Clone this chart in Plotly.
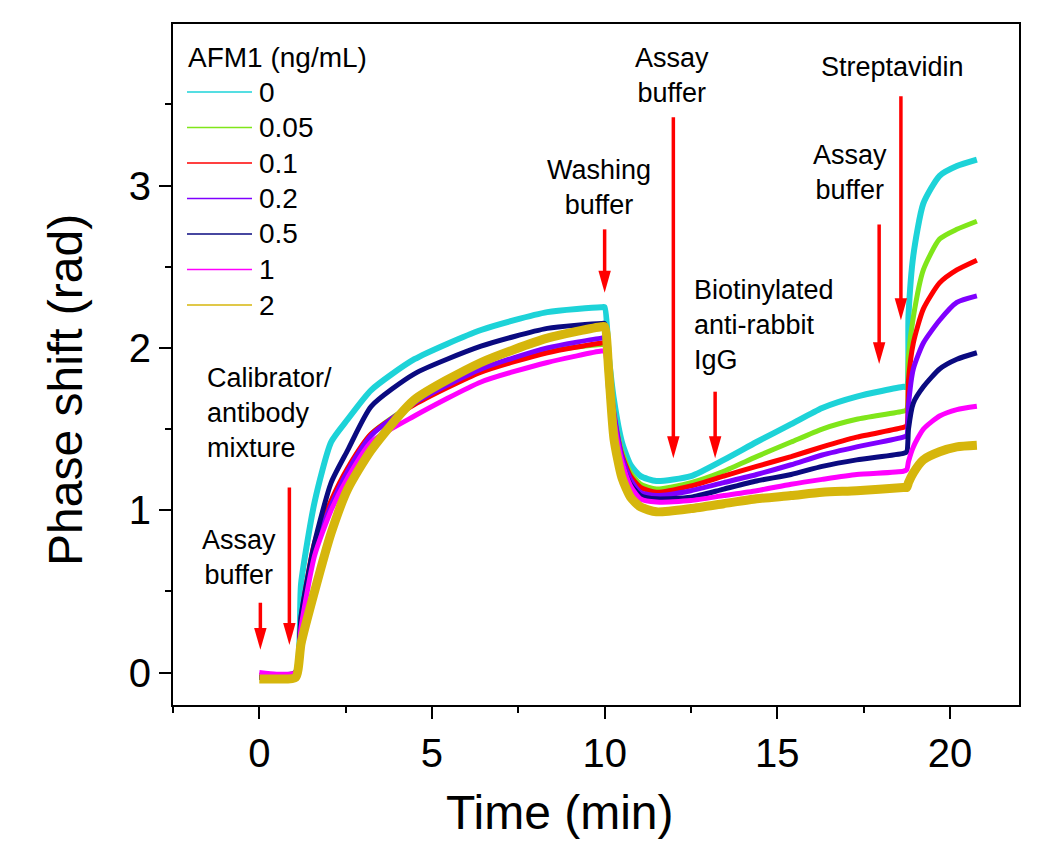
import plotly.graph_objects as go

# ---------------- data ----------------
time_min = [0.0, 0.5, 1.05, 1.21, 1.6, 2.08, 2.56, 3.24, 4.49, 6.42, 8.34, 9.9,
            10.0, 10.12, 10.27, 10.5, 10.75, 11.04, 11.5, 12.5, 13.45, 14.4, 15.4,
            16.3, 17.3, 18.65, 18.75, 18.8, 18.94, 19.23, 19.7, 20.2, 20.78]

conc_labels = ["0", "0.05", "0.1", "0.2", "0.5", "1", "2"]

phase_0 = [-0.02, -0.02, 0.0, 0.55, 1.05, 1.42, 1.56, 1.74, 1.93, 2.11, 2.22, 2.25,
           2.25, 1.95, 1.68, 1.42, 1.28, 1.21, 1.18, 1.21, 1.31, 1.42, 1.53,
           1.63, 1.70, 1.76, 1.76, 2.20, 2.57, 2.89, 3.06, 3.12, 3.16]
phase_005 = [-0.03, -0.03, 0.0, 0.30, 0.76, 1.04, 1.25, 1.47, 1.66, 1.86, 1.98, 2.02,
             2.02, 1.85, 1.60, 1.36, 1.23, 1.16, 1.13, 1.17, 1.24, 1.33, 1.42,
             1.50, 1.56, 1.61, 1.62, 1.95, 2.19, 2.48, 2.67, 2.73, 2.78]
phase_01 = [-0.02, -0.02, 0.0, 0.34, 0.80, 1.06, 1.26, 1.47, 1.65, 1.85, 1.97, 2.03,
            2.03, 1.85, 1.58, 1.34, 1.21, 1.14, 1.11, 1.15, 1.21, 1.27, 1.33,
            1.39, 1.45, 1.51, 1.52, 1.80, 2.03, 2.24, 2.40, 2.48, 2.54]
phase_02 = [-0.03, -0.03, 0.0, 0.30, 0.76, 1.03, 1.24, 1.46, 1.66, 1.87, 2.00, 2.06,
            2.06, 1.85, 1.60, 1.33, 1.19, 1.11, 1.09, 1.12, 1.17, 1.22, 1.28,
            1.34, 1.39, 1.45, 1.46, 1.65, 1.87, 2.03, 2.17, 2.28, 2.32]
phase_05 = [-0.03, -0.03, 0.0, 0.35, 0.80, 1.17, 1.37, 1.64, 1.84, 2.01, 2.12, 2.15,
            2.15, 1.72, 1.50, 1.29, 1.16, 1.09, 1.07, 1.08, 1.13, 1.18, 1.22,
            1.27, 1.31, 1.35, 1.36, 1.50, 1.66, 1.76, 1.87, 1.93, 1.97]
phase_1 = [0.0, -0.01, 0.0, 0.28, 0.72, 1.00, 1.20, 1.42, 1.58, 1.79, 1.91, 1.98,
           1.98, 1.80, 1.55, 1.30, 1.15, 1.07, 1.05, 1.06, 1.09, 1.12, 1.16,
           1.19, 1.22, 1.24, 1.25, 1.30, 1.39, 1.50, 1.58, 1.62, 1.64]
phase_2 = [-0.04, -0.04, -0.03, 0.18, 0.50, 0.86, 1.13, 1.37, 1.68, 1.91, 2.06, 2.13,
           2.13, 1.85, 1.44, 1.20, 1.08, 1.02, 0.99, 1.01, 1.04, 1.07, 1.09,
           1.11, 1.12, 1.14, 1.14, 1.17, 1.23, 1.31, 1.36, 1.39, 1.40]

series = [phase_0, phase_005, phase_01, phase_02, phase_05, phase_1, phase_2]
colors = ["#1DD3D8", "#80E61A", "#FF0000", "#7F00FF", "#0A0A80", "#FF00FF", "#D6B60C"]
line_widths = [6, 5, 5, 5, 5, 5, 9]

# event arrows: time, tail value, tip value
arrow_t = [0.03, 0.87, 10.0, 11.99, 13.2, 17.95, 18.58]
arrow_tail = [0.43, 1.14, 2.73, 3.42, 1.73, 2.76, 3.55]
arrow_tip = [0.14, 0.17, 2.34, 1.32, 1.32, 1.90, 2.17]

# event labels: text, time, value, alignment
label_text = ["Assay<br>buffer", "Calibrator/<br>antibody<br>mixture", "Washing<br>buffer",
              "Assay<br>buffer", "Biotinylated<br>anti-rabbit<br>IgG", "Assay<br>buffer",
              "Streptavidin"]
label_t = [-0.58, -1.56, 9.83, 11.94, 12.54, 17.11, 18.35]
label_v = [0.71, 1.60, 2.985, 3.68, 2.14, 3.08, 3.73]
label_align = ["center", "left", "center", "center", "left", "center", "center"]

# ---------------- figure ----------------
W, H = 1045, 842
ML, MR, MT, MB = 173, 26, 24, 137
PW, PH = W - ML - MR, H - MT - MB
FONT = "Liberation Sans, Arial, sans-serif"


def px_x(x):
    return (x - ML) / PW


def px_y(y):
    return (H - MB - y) / PH


fig = go.Figure()
for vals, col, lab, lw in zip(series, colors, conc_labels, line_widths):
    fig.add_trace(go.Scatter(x=time_min, y=vals, mode="lines", name=lab,
                             line=dict(color=col, width=lw, shape="spline", smoothing=0.6),
                             showlegend=False))

shapes = []
annotations = []

# arrows
head_len = 0.135
head_hw = 0.18
for t, tail, tip in zip(arrow_t, arrow_tail, arrow_tip):
    shapes.append(dict(type="line", xref="x", yref="y", x0=t, x1=t, y0=tail,
                       y1=tip + head_len * 0.9, line=dict(color="#FF0000", width=3.5)))
    shapes.append(dict(type="path", xref="x", yref="y",
                       path=f"M {t - head_hw},{tip + head_len} L {t + head_hw},{tip + head_len} L {t},{tip} Z",
                       fillcolor="#FF0000", line=dict(color="#FF0000", width=0)))

for txt, t, v, al in zip(label_text, label_t, label_v, label_align):
    annotations.append(dict(text=txt, x=t, y=v, xref="x", yref="y", showarrow=False,
                            xanchor="left" if al == "left" else "center", yanchor="middle",
                            align=al, font=dict(family=FONT, size=27, color="black")))

# manual legend
annotations.append(dict(text="AFM1 (ng/mL)", x=px_x(186), y=px_y(57), xref="paper", yref="paper",
                        showarrow=False, xanchor="left", yanchor="middle",
                        font=dict(family=FONT, size=28, color="black")))
for i, (lab, col) in enumerate(zip(conc_labels, colors)):
    yy = px_y(92 + 35.5 * i)
    shapes.append(dict(type="line", xref="paper", yref="paper", x0=px_x(187), x1=px_x(252),
                       y0=yy, y1=yy, line=dict(color=col, width=1.5)))
    annotations.append(dict(text=lab, x=px_x(257), y=yy, xref="paper", yref="paper",
                            showarrow=False, xanchor="left", yanchor="middle",
                            font=dict(family=FONT, size=28, color="black")))

# axis titles
annotations.append(dict(text="Time (min)", x=px_x(560), y=px_y(812), xref="paper", yref="paper",
                        showarrow=False, xanchor="center", yanchor="middle",
                        font=dict(family=FONT, size=48, color="black")))
annotations.append(dict(text="Phase shift (rad)", x=px_x(66), y=px_y(390), xref="paper", yref="paper",
                        showarrow=False, xanchor="center", yanchor="middle", textangle=-90,
                        font=dict(family=FONT, size=48, color="black")))

axis_common = dict(showline=True, linecolor="black", linewidth=2, mirror=True,
                   ticks="outside", ticklen=12, tickwidth=2, tickcolor="black",
                   showgrid=False, zeroline=False,
                   tickfont=dict(family=FONT, size=40, color="black"))

fig.update_layout(
    width=W, height=H, autosize=False,
    margin=dict(l=ML, r=MR, t=MT, b=MB),
    paper_bgcolor="white", plot_bgcolor="white",
    xaxis=dict(range=[-2.5, 22], tick0=0, dtick=5,
               minor=dict(tick0=0, dtick=2.5, ticks="outside", ticklen=6, tickwidth=2, tickcolor="black"),
               **axis_common),
    yaxis=dict(range=[-0.2, 3.995], tick0=0, dtick=1,
               minor=dict(tick0=0, dtick=0.5, ticks="outside", ticklen=6, tickwidth=2, tickcolor="black"),
               **axis_common),
    shapes=shapes, annotations=annotations, showlegend=False,
)

fig.write_html("out.html", config={"displayModeBar": False},
               post_script="document.body.style.margin='0';")
